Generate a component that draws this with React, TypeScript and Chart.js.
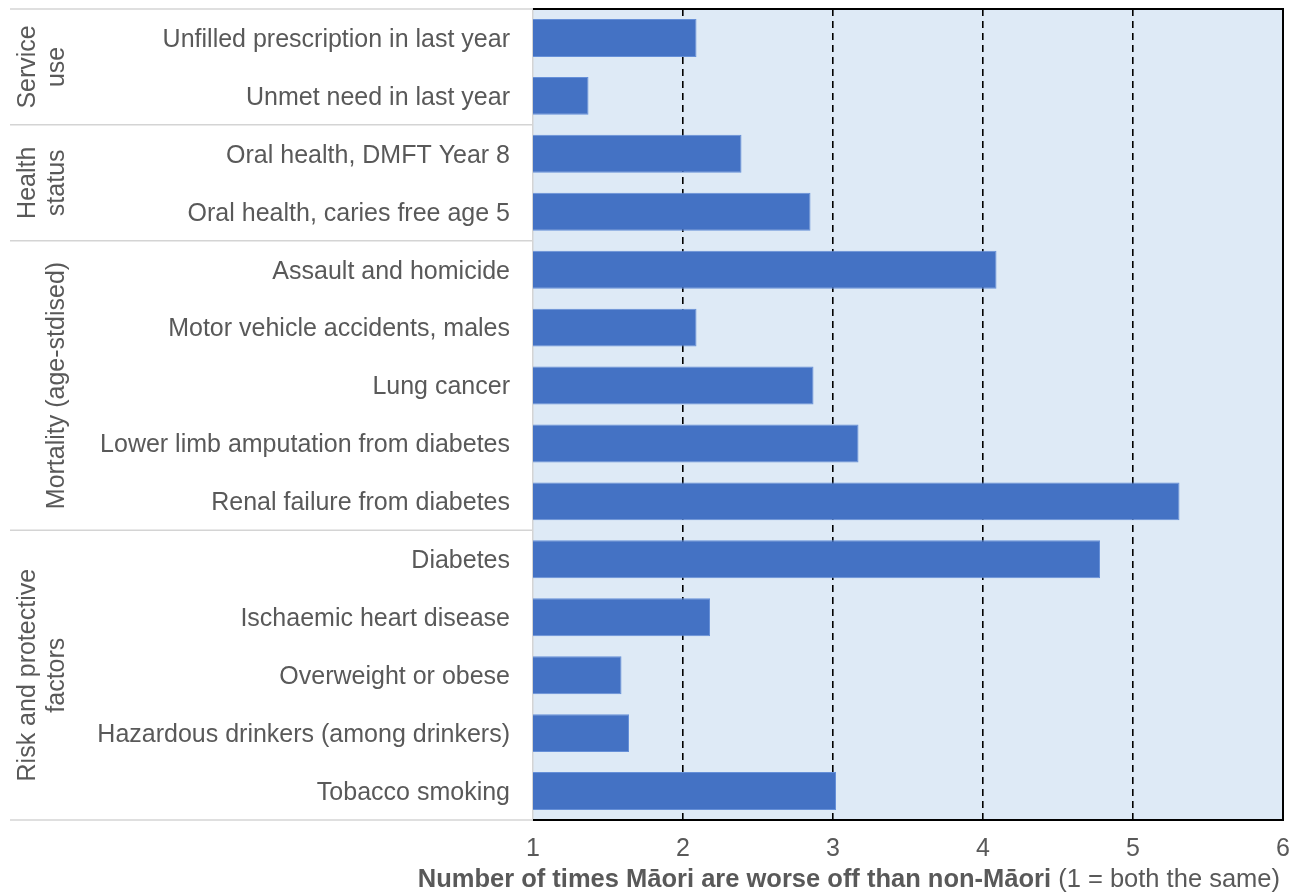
import React, { useEffect, useRef } from "react";
import { Chart, registerables } from "chart.js";

Chart.register(...registerables);

const categories = [
  "Unfilled prescription in last year",
  "Unmet need in last year",
  "Oral health, DMFT Year 8",
  "Oral health, caries free age 5",
  "Assault and homicide",
  "Motor vehicle accidents, males",
  "Lung cancer",
  "Lower limb amputation from diabetes",
  "Renal failure from diabetes",
  "Diabetes",
  "Ischaemic heart disease",
  "Overweight or obese",
  "Hazardous drinkers (among drinkers)",
  "Tobacco smoking",
];

const ratios = [2.09, 1.37, 2.39, 2.85, 4.09, 2.09, 2.87, 3.17, 5.31, 4.78, 2.18, 1.59, 1.64, 3.02];

const groupLabels = [
  ["Service", "use"],
  ["Health", "status"],
  ["Mortality (age-stdised)"],
  ["Risk and protective", "factors"],
];
const groupSizes = [2, 2, 5, 5];

const xTicks = [1, 2, 3, 4, 5, 6];
const titleBold = "Number of times Māori are worse off than non-Māori";
const titleNormal = " (1 = both the same)";

const TEXT = "#595959";
const SANS = '"Liberation Sans", Arial, sans-serif';

export default function App() {
  const ref = useRef<HTMLCanvasElement | null>(null);

  useEffect(() => {
    document.body.style.margin = "0";
    const canvas = ref.current;
    if (!canvas) return;

    const decor = {
      id: "decor",
      beforeDraw(chart: any) {
        const { ctx, chartArea } = chart;
        ctx.save();
        ctx.fillStyle = "#DEEAF6";
        ctx.fillRect(chartArea.left, chartArea.top, chartArea.right - chartArea.left, chartArea.bottom - chartArea.top);
        ctx.restore();
      },
      afterDraw(chart: any) {
        const { ctx, chartArea } = chart;
        const y = chart.scales.y;
        const x = chart.scales.x;
        ctx.save();
        // box border (top, right, bottom)
        ctx.strokeStyle = "#000";
        ctx.lineWidth = 2;
        ctx.beginPath();
        ctx.moveTo(chartArea.left, chartArea.top);
        ctx.lineTo(chartArea.right, chartArea.top);
        ctx.lineTo(chartArea.right, chartArea.bottom);
        ctx.lineTo(chartArea.left, chartArea.bottom);
        ctx.stroke();

        // category labels
        ctx.fillStyle = TEXT;
        ctx.font = `25px ${SANS}`;
        ctx.textAlign = "right";
        ctx.textBaseline = "middle";
        categories.forEach((c, i) => {
          ctx.fillText(c, chartArea.left - 23, y.getPixelForValue(i) + 2);
        });

        // group separators and labels
        let start = 0;
        const bounds: number[] = [y.getPixelForValue(-0.5)];
        groupSizes.forEach((n) => {
          start += n;
          bounds.push(y.getPixelForValue(start - 0.5));
        });
        ctx.strokeStyle = "#d4d4d4";
        ctx.lineWidth = 1.5;
        bounds.forEach((b) => {
          ctx.beginPath();
          ctx.moveTo(10, b);
          ctx.lineTo(chartArea.left, b);
          ctx.stroke();
        });
        ctx.textAlign = "center";
        const cols = [28, 57];
        groupLabels.forEach((lines, gi) => {
          const cy = (bounds[gi] + bounds[gi + 1]) / 2;
          lines.forEach((line, li) => {
            const cx = cols[cols.length - lines.length + li];
            ctx.save();
            ctx.translate(cx, cy);
            ctx.rotate(-Math.PI / 2);
            ctx.fillText(line, 0, 0);
            ctx.restore();
          });
        });

        // x tick labels
        ctx.font = `25px ${SANS}`;
        ctx.textAlign = "center";
        ctx.textBaseline = "middle";
        xTicks.forEach((t) => {
          ctx.fillText(String(t), x.getPixelForValue(t), 849);
        });

        // axis title
        ctx.textAlign = "left";
        ctx.font = `bold 25.5px ${SANS}`;
        const wb = ctx.measureText(titleBold).width;
        ctx.font = `25.5px ${SANS}`;
        const wn = ctx.measureText(titleNormal).width;
        const x0 = chartArea.right - 3 - wb - wn;
        ctx.font = `bold 25.5px ${SANS}`;
        ctx.fillText(titleBold, x0, 880);
        ctx.font = `25.5px ${SANS}`;
        ctx.fillText(titleNormal, x0 + wb, 880);
        ctx.restore();
      },
    };

    const chart = new Chart(canvas, {
      type: "bar",
      data: {
        labels: categories,
        datasets: [
          {
            data: ratios,
            backgroundColor: "#4472C4",
            borderColor: "#6690d8",
            borderWidth: 1,
            borderSkipped: false,
            barPercentage: 0.655,
            categoryPercentage: 1,
          },
        ],
      },
      options: {
        indexAxis: "y",
        animation: false,
        responsive: true,
        maintainAspectRatio: false,
        layout: { padding: { top: 9, right: 9, left: 0, bottom: 0 } },
        plugins: { legend: { display: false }, tooltip: { enabled: false } },
        scales: {
          x: {
            min: 1,
            max: 6,
            ticks: { display: false, stepSize: 1 },
            grid: {
              drawTicks: false,
              lineWidth: 1.6,
              color: (c: any) => (c.tick && c.tick.value > 1 && c.tick.value < 6 ? "#000" : "rgba(0,0,0,0)"),
            },
            border: { display: false, dash: [7, 5] },
            afterFit: (s: any) => {
              s.height = 74;
              s.paddingLeft = 0;
              s.paddingRight = 0;
            },
          },
          y: {
            ticks: { display: false, autoSkip: false },
            grid: { display: false },
            border: { display: true, color: "#d4d4d4", width: 1.5 },
            afterFit: (s: any) => {
              s.width = 533;
              s.paddingTop = 0;
              s.paddingBottom = 0;
            },
          },
        },
      },
      plugins: [decor],
    });

    return () => chart.destroy();
  }, []);

  return (
    <div style={{ width: "1292px", height: "894px", position: "relative" }}>
      <canvas ref={ref} />
    </div>
  );
}
